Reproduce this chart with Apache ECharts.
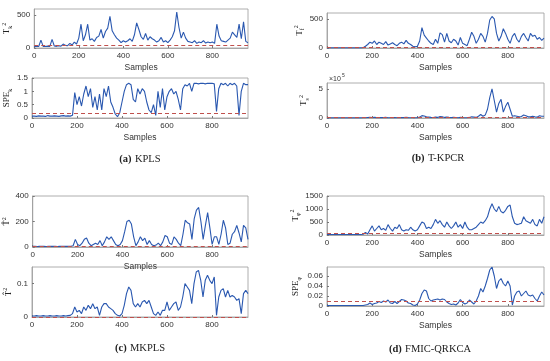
<!DOCTYPE html>
<html><head><meta charset="utf-8">
<script src="https://cdn.jsdelivr.net/npm/echarts@6/dist/echarts.min.js"></script>
<style>html,body{margin:0;padding:0;background:#fff}#c{width:550px;height:361px}</style>
</head><body><div id="c"></div>
<script>
const samples = [0,10,20,30,40,50,60,70,80,90,100,110,120,130,140,150,160,170,180,190,200,210,220,230,240,250,260,270,280,290,300,310,320,330,340,350,360,370,380,390,400,410,420,430,440,450,460,470,480,490,500,510,520,530,540,550,560,570,580,590,600,610,620,630,640,650,660,670,680,690,700,710,720,730,740,750,760,770,780,790,800,810,820,830,840,850,860,870,880,890,900,910,920,930,940,950,960];

// (a) KPLS
const kplsT2 = [20,25,22,120,25,22,28,25,130,30,
 25,35,28,60,40,35,70,45,90,60,
 150,360,110,200,360,120,140,100,160,180,
 280,150,250,300,480,260,200,150,120,80,
 110,90,110,140,100,200,380,280,170,130,
 220,120,170,140,120,90,110,160,90,110,
 80,120,170,260,545,310,150,240,150,100,
 90,80,110,70,90,80,110,75,90,80,
 90,70,360,180,110,100,90,120,150,240,
 200,160,360,140,395,100,80];
const kplsSPE = [0.07,0.07,0.06,0.08,0.07,0.07,0.06,0.09,0.07,0.07,
 0.08,0.07,0.06,0.08,0.09,0.07,0.08,0.07,0.1,0.95,
 0.5,0.8,0.45,0.9,1.2,0.8,1.1,0.4,0.8,0.3,
 0.9,0.3,1.1,0.8,1.2,0.6,0.4,0.15,0.05,0.2,
 0.6,1.0,1.25,1.3,1.25,0.7,0.6,1.1,0.9,1.1,
 1.0,0.6,0.3,0.2,0.5,0.1,1.0,0.4,1.1,0.3,
 0.8,1.0,1.1,0.9,1.0,0.7,0.3,1.1,1.25,1.2,
 1.3,1.0,1.3,1.3,1.28,1.3,1.3,1.28,1.3,1.3,
 1.3,1.28,0.25,1.1,1.3,1.25,1.3,1.2,1.3,1.25,
 1.3,1.2,0.1,1.0,1.3,1.25,1.25];
// (b) T-KPCR
const tkpcrTf = [2,2,2,2,2,2,2,2,2,2,
 2,2,2,2,2,2,3,30,60,100,
 80,120,60,100,80,60,110,50,70,90,
 60,40,80,100,70,130,80,60,30,20,
 30,120,350,220,170,120,80,60,150,80,
 260,230,100,250,120,90,150,120,50,180,
 80,60,40,150,270,200,80,150,250,200,
 100,250,480,540,500,250,120,200,330,250,
 150,80,200,250,150,100,200,250,180,120,
 250,200,220,150,180,130,170];
const tkpcrTs = [0.02,0.02,0.02,0.02,0.02,0.02,0.02,0.02,0.02,0.02,
 0.02,0.02,0.02,0.02,0.02,0.02,0.03,0.05,0.08,0.1,
 0.08,0.1,0.06,0.08,0.07,0.06,0.1,0.05,0.06,0.08,
 0.06,0.04,0.07,0.08,0.06,0.1,0.07,0.05,0.03,0.03,
 0.05,0.15,0.4,0.35,0.2,0.15,0.1,0.08,0.15,0.1,
 0.25,0.2,0.1,0.15,0.1,0.08,0.1,0.08,0.05,0.1,
 0.06,0.05,0.05,0.1,0.2,0.15,0.1,0.3,0.6,0.3,
 0.5,1.5,3.5,5.0,3.0,1.0,2.5,3.2,1.0,2.0,
 2.7,1.5,0.3,0.4,0.3,0.2,0.25,0.5,0.4,0.2,
 0.2,0.3,0.2,0.15,0.4,0.3,0.3];
// (c) MKPLS
const mkplsT2 = [5,5,4,6,5,5,4,5,6,5,
 5,4,5,6,5,5,5,6,10,60,
 20,10,30,60,70,30,10,20,30,20,
 50,10,40,80,60,80,50,20,10,20,
 50,120,200,210,180,80,10,40,80,50,
 70,20,50,20,10,15,30,10,40,90,
 80,30,20,80,60,30,10,100,210,190,
 180,60,220,290,310,200,60,170,270,150,
 20,80,80,20,100,210,150,20,30,100,
 120,170,110,40,170,150,60];
const mkplsQ = [0.003,0.003,0.004,0.003,0.003,0.004,0.003,0.003,0.004,0.003,
 0.003,0.004,0.003,0.003,0.004,0.003,0.004,0.005,0.01,0.03,
 0.015,0.02,0.01,0.03,0.02,0.035,0.025,0.04,0.025,0.03,
 0.005,0.03,0.04,0.04,0.03,0.025,0.02,0.01,0.005,0.003,
 0.01,0.035,0.07,0.09,0.08,0.04,0.03,0.04,0.03,0.045,
 0.05,0.04,0.05,0.03,0.01,0.005,0.015,0.005,0.02,0.02,
 0.045,0.02,0.03,0.04,0.045,0.02,0.03,0.06,0.1,0.09,
 0.08,0.04,0.1,0.135,0.14,0.11,0.06,0.11,0.125,0.11,
 0.1,0.12,0.005,0.06,0.08,0.085,0.06,0.08,0.06,0.065,
 0.06,0.05,0.055,0.01,0.07,0.08,0.07];
// (d) FMIC-QRKCA
const fmicT2 = [20,20,20,20,20,20,20,20,20,20,
 20,20,20,20,20,20,30,100,40,200,
 350,150,250,350,200,250,180,400,250,150,
 300,250,400,200,150,200,180,300,200,150,
 200,350,500,450,250,300,250,400,600,450,
 550,400,300,500,350,250,350,500,300,400,
 250,500,300,200,200,250,300,400,500,450,
 550,700,1000,1200,1000,900,1100,900,850,950,
 1100,1150,700,450,400,420,450,700,550,500,
 450,600,400,350,600,450,700];
const fmicSPE = [0.001,0.001,0.001,0.001,0.001,0.001,0.001,0.001,0.001,0.001,
 0.001,0.001,0.001,0.001,0.001,0.001,0.001,0.002,0.003,0.006,
 0.003,0.005,0.006,0.009,0.007,0.01,0.008,0.012,0.006,0.005,
 0.009,0.005,0.009,0.013,0.012,0.01,0.006,0.005,0.002,0.001,
 0.004,0.012,0.025,0.032,0.03,0.015,0.01,0.012,0.013,0.014,
 0.012,0.014,0.013,0.008,0.005,0.003,0.004,0.002,0.006,0.013,
 0.007,0.004,0.006,0.012,0.008,0.004,0.01,0.02,0.035,0.028,
 0.04,0.055,0.072,0.078,0.06,0.035,0.05,0.055,0.045,0.04,
 0.05,0.04,0.002,0.02,0.028,0.03,0.02,0.025,0.03,0.022,
 0.02,0.022,0.015,0.01,0.02,0.028,0.022];

const seriesValues = [kplsT2, kplsSPE, tkpcrTf, tkpcrTs, mkplsT2, mkplsQ, fmicT2, fmicSPE];
const thresholds = [40, 0.17, 8, 0.05, 8, 0.004, 60, 0.005];
const yMax = [590, 1.5, 600, 6, 400, 0.15, 1500, 0.078];
const yInterval = [500, 0.5, 500, 5, 200, 0.1, 500, 0.02];
const yMaxLabel = [false, true, false, false, true, false, true, false];
const yNames = [
  '{m|T}{sub|k}{sup|2}', '{m|SPE}{sub|k}',
  '{m|T}{sub|f}{sup|2}', '{m|T}{sub|s}{sup|2}',
  '{m|T̂}{sup|2}', '{m|T̂}{sup|2}',
  '{m|T}{sub|φ}{sup|2}', '{m|SPE}{sub|φ}'
];
const captions = [['(a)', 'KPLS'], ['(b)', 'T-KPCR'], ['(c)', 'MKPLS'], ['(d)', 'FMIC-QRKCA']];

const boxes = [
  {left: 32, top: 9, width: 216, height: 39},
  {left: 32, top: 78, width: 216, height: 40},
  {left: 327, top: 13, width: 217, height: 35},
  {left: 327, top: 83, width: 217, height: 35},
  {left: 32, top: 196, width: 216, height: 51},
  {left: 32, top: 267, width: 216, height: 50},
  {left: 327, top: 196, width: 217, height: 39},
  {left: 327, top: 267, width: 217, height: 39}
];
const showSamples = [true, true, true, true, true, false, true, true];

const tickFont = {fontFamily: 'Liberation Sans, Arial, sans-serif', fontSize: 8, color: '#333'};
const rich = {
  m: {fontFamily: 'Liberation Serif, serif', fontSize: 9, color: '#222', lineHeight: 12},
  sub: {fontFamily: 'Liberation Serif, serif', fontSize: 6, color: '#222', verticalAlign: 'bottom', lineHeight: 12},
  sup: {fontFamily: 'Liberation Serif, serif', fontSize: 6, color: '#222', verticalAlign: 'top', lineHeight: 12}
};

const grid = [], xAxis = [], yAxis = [], series = [];
boxes.forEach((b, i) => {
  grid.push(Object.assign({show: true, borderColor: '#9a9a9a', borderWidth: 0.8, backgroundColor: '#fff', containLabel: false}, b));
  xAxis.push({
    type: 'value', gridIndex: i, min: 0, max: 960, interval: 200,
    axisLine: {show: true, onZero: false, lineStyle: {color: '#9a9a9a', width: 0.8}},
    axisTick: {show: true, inside: true, length: 2, lineStyle: {color: '#777'}},
    axisLabel: Object.assign({showMaxLabel: false, margin: 4, formatter: v => String(v)}, tickFont),
    splitLine: {show: false},
    name: showSamples[i] ? 'Samples' : '', nameLocation: 'middle', nameGap: 15,
    nameTextStyle: {fontFamily: 'Liberation Sans, Arial, sans-serif', fontSize: 8.5, color: '#333'}
  });
  yAxis.push({
    type: 'value', gridIndex: i, min: 0, max: yMax[i], interval: yInterval[i],
    axisLine: {show: true, lineStyle: {color: '#9a9a9a', width: 0.8}},
    axisTick: {show: true, inside: true, length: 2, lineStyle: {color: '#777'}},
    axisLabel: Object.assign({showMaxLabel: yMaxLabel[i], margin: 4, formatter: v => String(+v.toFixed(4))}, tickFont),
    splitLine: {show: false},
    name: yNames[i], nameLocation: 'middle', nameRotate: 90,
    nameGap: (i === 6 || i === 7) ? 25 : 17,
    nameTextStyle: {rich: rich}
  });
  series.push({
    type: 'line', xAxisIndex: i, yAxisIndex: i, symbol: 'none', animation: false,
    lineStyle: {color: '#2a58b0', width: 1.1},
    data: samples.map((x, k) => [x, seriesValues[i][k]]),
    markLine: {
      silent: true, symbol: 'none', animation: false, label: {show: false},
      lineStyle: {color: '#c0504d', type: [4, 3], width: 1},
      data: [{yAxis: thresholds[i]}]
    }
  });
});

const capPos = [[140, 159], [438, 158], [140, 348], [430, 349]];
const graphic = captions.map((c, i) => ({
  type: 'text', x: capPos[i][0], y: capPos[i][1],
  style: {
    text: '{b|' + c[0] + '} {n|' + c[1] + '}', align: 'center', verticalAlign: 'middle',
    rich: {
      b: {fontFamily: 'Liberation Serif, serif', fontSize: 10.5, fontWeight: 'bold', fill: '#222'},
      n: {fontFamily: 'Liberation Serif, serif', fontSize: 10.5, fill: '#222'}
    }
  }
}));
graphic.push({
  type: 'text', x: 329, y: 79,
  style: {text: '×10', font: '7px Liberation Sans', fill: '#333', verticalAlign: 'middle'}
});
graphic.push({
  type: 'text', x: 342, y: 76,
  style: {text: '5', font: '5px Liberation Sans', fill: '#333', verticalAlign: 'middle'}
});

const chart = echarts.init(document.getElementById('c'), null, {renderer: 'canvas'});
chart.setOption({animation: false, grid, xAxis, yAxis, series, graphic});
</script></body></html>
